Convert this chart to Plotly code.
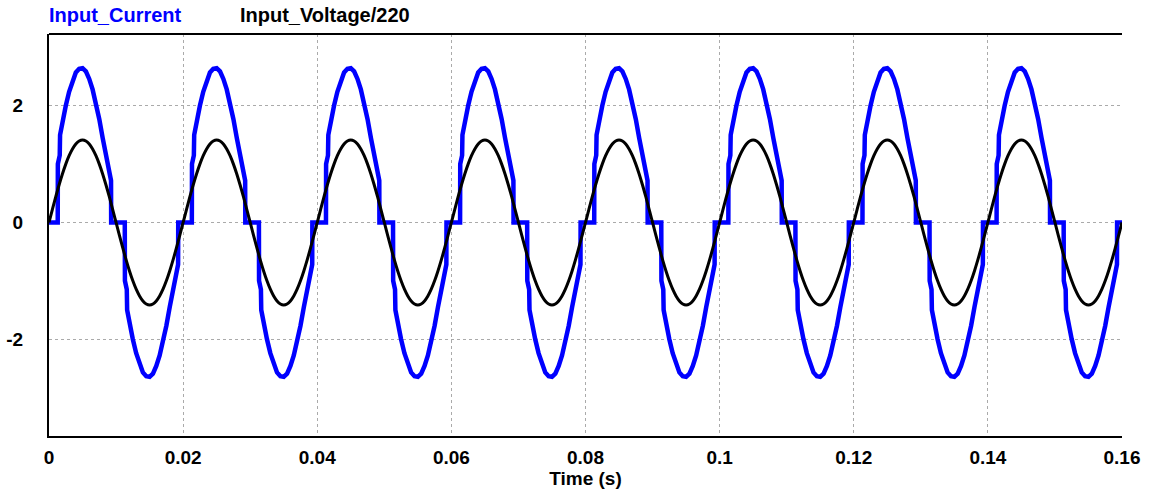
import plotly.graph_objects as go

# ---- data (one 20 ms mains cycle; repeated for 8 cycles) ----
period_ms = 20.0
n_cycles = 8

current_t_ms = [0.0, 1.3, 1.32, 1.6, 1.65, 2.0, 2.5, 3.0, 3.5, 4.0, 4.5, 5.0, 5.5, 6.0, 6.5,
                7.0, 7.5, 8.0, 8.5, 9.0, 9.25, 9.27,
                11.3, 11.32, 11.6, 11.65, 12.0, 12.5, 13.0, 13.5, 14.0, 14.5, 15.0, 15.5, 16.0, 16.5,
                17.0, 17.5, 18.0, 18.5, 19.0, 19.25, 19.27]
current_vals = [0.0, 0.0, 1.0, 1.15, 1.5, 1.72, 2.0, 2.24, 2.43, 2.57, 2.635, 2.645, 2.59, 2.46, 2.28,
                2.05, 1.77, 1.45, 1.15, 0.85, 0.72, 0.0,
                0.0, -1.0, -1.15, -1.5, -1.72, -2.0, -2.24, -2.43, -2.57, -2.635, -2.645, -2.59, -2.46, -2.28,
                -2.05, -1.77, -1.45, -1.15, -0.85, -0.72, 0.0]

voltage_t_ms = [0.0, 0.5, 1.0, 1.5, 2.0, 2.5, 3.0, 3.5, 4.0, 4.5, 5.0, 5.5, 6.0, 6.5, 7.0, 7.5,
                8.0, 8.5, 9.0, 9.5, 10.0, 10.5, 11.0, 11.5, 12.0, 12.5, 13.0, 13.5, 14.0, 14.5,
                15.0, 15.5, 16.0, 16.5, 17.0, 17.5, 18.0, 18.5, 19.0, 19.5]
voltage_vals = [0.0, 0.221, 0.437, 0.642, 0.831, 1.0, 1.144, 1.26, 1.345, 1.397, 1.414, 1.397, 1.345,
                1.26, 1.144, 1.0, 0.831, 0.642, 0.437, 0.221, 0.0, -0.221, -0.437, -0.642, -0.831,
                -1.0, -1.144, -1.26, -1.345, -1.397, -1.414, -1.397, -1.345, -1.26, -1.144, -1.0,
                -0.831, -0.642, -0.437, -0.221]

x_ticks = [0, 0.02, 0.04, 0.06, 0.08, 0.1, 0.12, 0.14, 0.16]
x_tick_labels = ["0", "0.02", "0.04", "0.06", "0.08", "0.1", "0.12", "0.14", "0.16"]
y_ticks = [-2, 0, 2]
y_tick_labels = ["-2", "0", "2"]


def tile(ts, vs):
    xs, ys = [], []
    for k in range(n_cycles):
        for t, v in zip(ts, vs):
            xs.append((t + k * period_ms) / 1000.0)
            ys.append(v)
    xs.append(n_cycles * period_ms / 1000.0)
    ys.append(vs[0])
    return xs, ys


cx, cy = tile(current_t_ms, current_vals)
vx, vy = tile(voltage_t_ms, voltage_vals)

FONT = "Liberation Sans, Arial, sans-serif"
TICK_SIZE = 19

fig = go.Figure()
fig.add_trace(go.Scatter(x=cx, y=cy, mode="lines", name="Input_Current",
                         line=dict(color="#0000FF", width=4.5), line_shape="linear"))
fig.add_trace(go.Scatter(x=vx, y=vy, mode="lines", name="Input_Voltage/220",
                         line=dict(color="#000000", width=3), line_shape="spline"))

fig.update_layout(
    width=1152, height=495,
    margin=dict(l=49, r=30, t=34, b=59),
    paper_bgcolor="white", plot_bgcolor="white",
    showlegend=False,
    font=dict(family=FONT, size=TICK_SIZE, color="black"),
)
fig.update_xaxes(
    range=[0, 0.16], tickvals=x_ticks, ticktext=x_tick_labels,
    showgrid=True, gridcolor="#AAAAAA", griddash="dot", gridwidth=1,
    showline=True, linecolor="black", linewidth=2, mirror=False,
    zeroline=False, ticks="", ticklabelstandoff=3, automargin=False,
    tickfont=dict(family=FONT, size=TICK_SIZE, color="black", weight="bold"),
    title=dict(text="<b>Time (s)</b>", font=dict(family=FONT, size=TICK_SIZE, color="black"), standoff=5),
)
fig.update_yaxes(
    range=[-3.66, 3.23], tickvals=y_ticks, ticktext=y_tick_labels,
    showgrid=True, gridcolor="#AAAAAA", griddash="dot", gridwidth=1,
    showline=True, linecolor="black", linewidth=2,
    zeroline=False, ticks="", ticklabelstandoff=20, automargin=False,
    tickfont=dict(family=FONT, size=TICK_SIZE, color="black", weight="bold"),
)
# top border line
fig.add_shape(type="line", xref="paper", yref="paper", x0=0, x1=1, y0=1, y1=1,
              line=dict(color="black", width=2))

plot_w = 1152 - 49 - 30
fig.add_annotation(text="<b>Input_Current</b>", xref="paper", yref="paper", x=0, y=1,
                   xanchor="left", yanchor="bottom", yshift=6, xshift=-2, showarrow=False,
                   font=dict(family=FONT, size=20, color="#0000FF"))
fig.add_annotation(text="<b>Input_Voltage/220</b>", xref="paper", yref="paper",
                   x=(238 - 49) / plot_w, y=1,
                   xanchor="left", yanchor="bottom", yshift=6, showarrow=False,
                   font=dict(family=FONT, size=20, color="#000000"))

# remove the browser's default 8px body margin so the figure sits at the page origin
fig.write_html("out.html", config={"displayModeBar": False},
               post_script="document.body.style.margin='0px';")
